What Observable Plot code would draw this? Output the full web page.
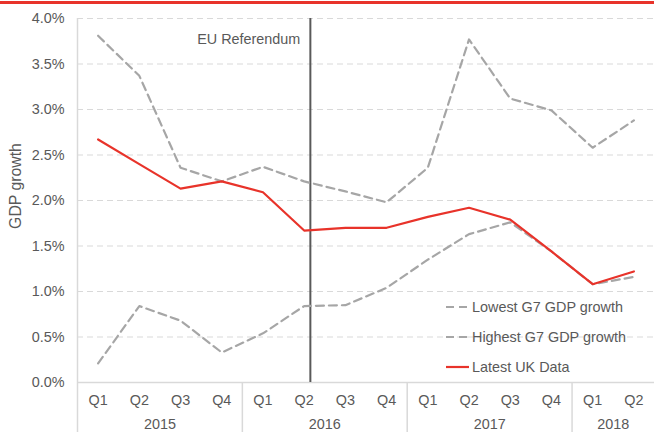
<!DOCTYPE html>
<html>
<head>
<meta charset="utf-8">
<script src="https://cdn.jsdelivr.net/npm/d3@7"></script>
<script src="https://cdn.jsdelivr.net/npm/@observablehq/plot@0.6"></script>
<style>
  body { margin: 0; background: #fff; font-family: "Liberation Sans", Arial, sans-serif; }
  #wrap { position: relative; width: 654px; height: 432px; overflow: hidden; }
  #topbar { position: absolute; left: 0; top: 1px; width: 654px; height: 3px; background: #e8332a; }
  #legend { position: absolute; left: 446px; top: 292px; font-size: 14.4px; color: #595959; }
  #legend .row { height: 30px; display: flex; align-items: center; }
  #legend svg { margin-right: 3px; }
  #ylabel { position: absolute; left: 16px; top: 186px; width: 120px; margin-left: -60px; margin-top: -10px; height: 20px; line-height: 20px; text-align: center; font-size: 15.8px; color: #595959; transform: rotate(-90deg); white-space: nowrap; }
  svg text { fill: #595959; }
</style>
</head>
<body>
<div id="wrap">
  <div id="chart"></div>
  <div id="topbar"></div>
  <div id="ylabel"></div>
  <div id="legend"></div>
</div>
<script>
const quarters = ["Q1","Q2","Q3","Q4","Q1","Q2","Q3","Q4","Q1","Q2","Q3","Q4","Q1","Q2"];
const years = ["2015","2016","2017","2018"];
const yearCenters = [1.5, 5.5, 9.5, 12.5];
const yearBounds = [-0.5, 3.5, 7.5, 11.5];
const ukGrowth =      [2.67, 2.40, 2.13, 2.21, 2.09, 1.67, 1.70, 1.70, 1.82, 1.92, 1.79, 1.44, 1.08, 1.22];
const highestG7 =     [3.81, 3.37, 2.36, 2.21, 2.37, 2.21, 2.10, 1.98, 2.36, 3.77, 3.12, 2.99, 2.58, 2.88];
const lowestG7 =      [0.21, 0.84, 0.68, 0.33, 0.54, 0.84, 0.85, 1.04, 1.35, 1.63, 1.76, 1.44, 1.08, 1.16];
const yTicks = [0, 0.5, 1, 1.5, 2, 2.5, 3, 3.5, 4];
const yLabel = "GDP growth";
const referendumX = 5.15;
const referendumLabel = [{x: 5.15, y: 3.77, text: "EU Referendum"}];
const legendItems = [
  {label: "Lowest G7 GDP growth", color: "#a6a6a6", dash: "8,5"},
  {label: "Highest G7 GDP growth", color: "#a6a6a6", dash: "8,5"},
  {label: "Latest UK Data", color: "#e8332a", dash: null}
];

const idx = quarters.map((_, i) => i);
const grey = "#a6a6a6", red = "#e8332a", axisGrey = "#d9d9d9";
const fs = 14.4;

const chart = Plot.plot({
  width: 654,
  height: 432,
  marginLeft: 77,
  marginRight: 0,
  marginTop: 18,
  marginBottom: 50,
  style: {fontFamily: "'Liberation Sans', Arial, sans-serif", fontSize: fs + "px", color: "#595959", background: "white"},
  x: {domain: [-0.5, quarters.length - 0.5]},
  y: {domain: [0, 4]},
  marks: [
    Plot.gridY(yTicks, {stroke: axisGrey, strokeOpacity: 1, strokeDasharray: "6,4"}),
    Plot.ruleY([0], {stroke: axisGrey, strokeWidth: 1.5}),
    Plot.ruleX([yearBounds[0]], {stroke: axisGrey, strokeWidth: 1.5}),
    Plot.axisY(yTicks, {tickSize: 0, tickPadding: 13, tickFormat: d => d.toFixed(1) + "%", fontSize: fs, label: null}),
    Plot.axisX(yearBounds, {tickSize: 50, stroke: axisGrey, strokeWidth: 1.5, tickFormat: () => "", label: null}),
    Plot.axisX(idx, {tickSize: 0, tickPadding: 12, tickFormat: i => quarters[i], label: null, fontSize: fs}),
    Plot.axisX(yearCenters, {tickSize: 0, tickPadding: 36, tickFormat: (d, i) => years[i], label: null, fontSize: fs}),
    Plot.ruleX([referendumX], {stroke: "#595959", strokeWidth: 2}),
    Plot.text(referendumLabel, {x: "x", y: "y", text: "text", textAnchor: "end", dx: -10, fontSize: fs, fill: "#404040"}),
    Plot.line(lowestG7, {x: (d, i) => i, y: d => d, stroke: grey, strokeWidth: 2.2, strokeDasharray: "8,5"}),
    Plot.line(highestG7, {x: (d, i) => i, y: d => d, stroke: grey, strokeWidth: 2.2, strokeDasharray: "8,5"}),
    Plot.line(ukGrowth, {x: (d, i) => i, y: d => d, stroke: red, strokeWidth: 2.2})
  ]
});
document.getElementById("chart").appendChild(chart);
document.getElementById("ylabel").textContent = yLabel;

const legend = document.getElementById("legend");
for (const item of legendItems) {
  const row = document.createElement("div");
  row.className = "row";
  row.innerHTML = `<svg width="23" height="10"><line x1="0" y1="5" x2="23" y2="5" stroke="${item.color}" stroke-width="2.2" ${item.dash ? `stroke-dasharray="${item.dash}"` : ""}/></svg><span>${item.label}</span>`;
  legend.appendChild(row);
}
</script>
</body>
</html>
